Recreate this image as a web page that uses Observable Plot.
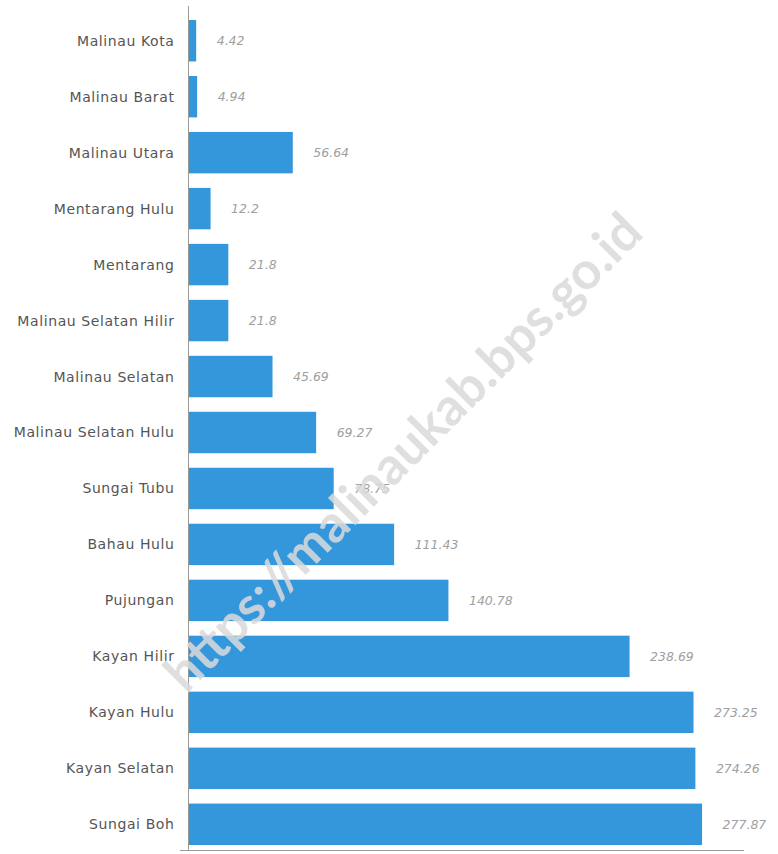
<!DOCTYPE html>
<html>
<head>
<meta charset="utf-8">
<script src="https://cdn.jsdelivr.net/npm/d3@7"></script>
<script src="https://cdn.jsdelivr.net/npm/@observablehq/plot@0.6"></script>
<style>
  html, body { margin: 0; padding: 0; background: #fff; }
  #chart svg { display: block; }
  #chart g[aria-label="y-axis tick label"] text { letter-spacing: 0.6px; }
</style>
</head>
<body>
<div id="chart"></div>
<script>
const districts = [
  "Malinau Kota", "Malinau Barat", "Malinau Utara", "Mentarang Hulu", "Mentarang",
  "Malinau Selatan Hilir", "Malinau Selatan", "Malinau Selatan Hulu", "Sungai Tubu",
  "Bahau Hulu", "Pujungan", "Kayan Hilir", "Kayan Hulu", "Kayan Selatan", "Sungai Boh"
];
const values = [4.42, 4.94, 56.64, 12.2, 21.8, 21.8, 45.69, 69.27, 78.75, 111.43, 140.78, 238.69, 273.25, 274.26, 277.87];
const valueLabels = ["4.42", "4.94", "56.64", "12.2", "21.8", "21.8", "45.69", "69.27", "78.75", "111.43", "140.78", "238.69", "273.25", "274.26", "277.87"];
const watermark = "https://malinaukab.bps.go.id";

const data = districts.map((d, i) => ({district: d, value: values[i], label: valueLabels[i]}));

const chart = Plot.plot({
  width: 778,
  height: 854,
  marginLeft: 188,
  marginRight: 35,
  marginTop: 20,
  marginBottom: 9,
  style: {fontFamily: "'DejaVu Sans', sans-serif", background: "#fff"},
  x: {domain: [0, 300], axis: null},
  y: {domain: districts, paddingInner: 0.26, paddingOuter: 0, round: false, label: null},
  marks: [
    Plot.axisY({tickSize: 0, tickPadding: 14, fontSize: 14, fill: "#555", label: null}),
    Plot.barX(data, {x: "value", y: "district", fill: "#3597db"}),
    Plot.text(data, {x: "value", y: "district", text: "label", textAnchor: "start", dx: 20,
      fontStyle: "italic", fontSize: 12.5, fill: "#a0a0a0"}),
    Plot.ruleX([0], {stroke: "#999", strokeWidth: 1, insetTop: -14, insetBottom: -5}),
    Plot.frame({anchor: "bottom", stroke: "#999", insetBottom: -5, insetLeft: -8}),
    Plot.text([watermark], {frameAnchor: "middle", rotate: -45, dx: -62, dy: 20,
      fontFamily: "Lato, sans-serif", fontSize: 52, fontWeight: "bold", fill: "#d9d9d9", fillOpacity: 0.85})
  ]
});
document.getElementById("chart").appendChild(chart);
</script>
</body>
</html>
